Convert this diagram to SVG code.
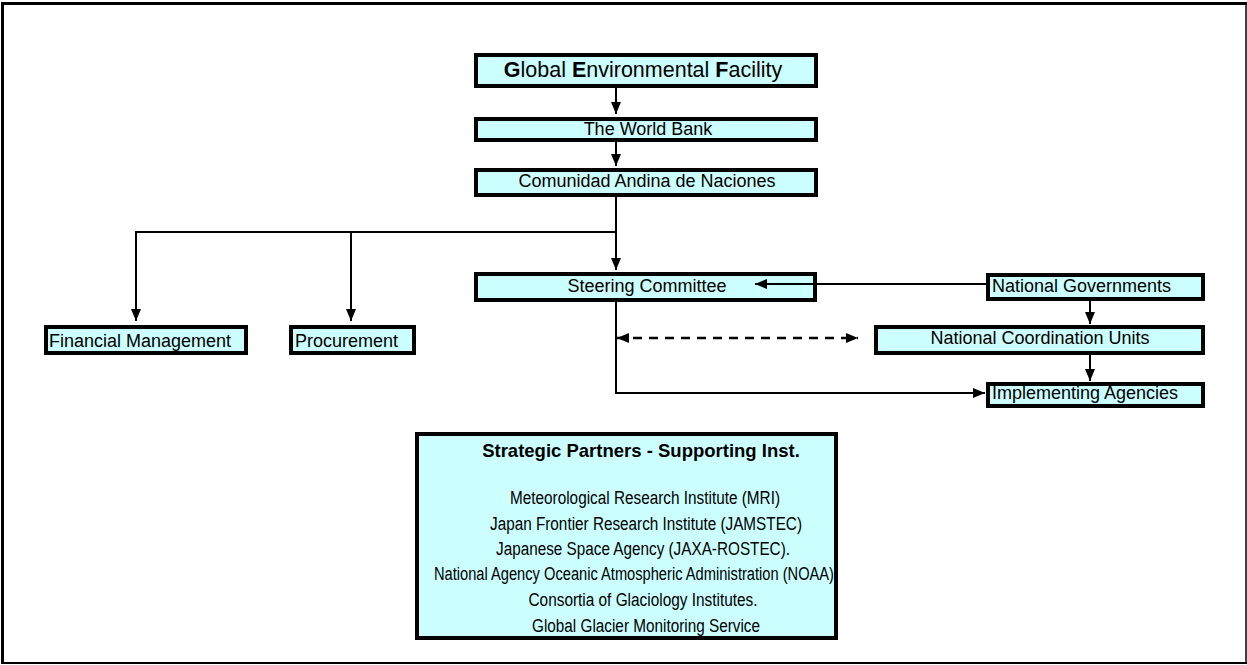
<svg xmlns="http://www.w3.org/2000/svg" width="1247" height="665" viewBox="0 0 1247 665">
<style>
.box{fill:#CCFFFF;stroke:#000;stroke-width:4}
.t{font-family:"Liberation Sans",Arial,sans-serif;font-size:18px;fill:#000}
.c{text-anchor:middle}
.n{font-family:"Liberation Sans Narrow","Liberation Sans",Arial,sans-serif;font-size:18px;fill:#000;text-anchor:middle}
.ln{fill:none;stroke:#000;stroke-width:2}
.dash{fill:none;stroke:#000;stroke-width:2.5;stroke-dasharray:9 7}
</style>
<defs>
<marker id="ah" viewBox="0 0 12 10" refX="12" refY="5" markerWidth="12" markerHeight="10" markerUnits="userSpaceOnUse" orient="auto-start-reverse">
<path d="M0,0 L12,5 L0,10 Z" fill="#000"/>
</marker>
</defs>
<rect width="1247" height="665" fill="#fff"/>
<g id="frame" stroke="#000" fill="none">
<line x1="2.5" y1="2" x2="2.5" y2="664" stroke-width="3"/>
<line x1="1" y1="3.5" x2="1247" y2="3.5" stroke-width="3"/>
<line x1="1246" y1="2" x2="1246" y2="664" stroke-width="1.5"/>
<line x1="1" y1="663" x2="1247" y2="663" stroke-width="2"/>
</g>
<g id="gef">
<rect class="box" x="476" y="55" width="340" height="31"/>
<text class="t c" x="643" y="77" style="font-size:21.5px"><tspan font-weight="bold">G</tspan>lobal <tspan font-weight="bold">E</tspan>nvironmental <tspan font-weight="bold">F</tspan>acility</text>
</g>
<g id="worldbank">
<rect class="box" x="476" y="119" width="340" height="21"/>
<text class="t c" x="648" y="135">The World Bank</text>
</g>
<g id="can">
<rect class="box" x="476" y="170" width="340" height="25"/>
<text class="t c" x="647" y="187">Comunidad Andina de Naciones</text>
</g>
<g id="steering">
<rect class="box" x="476" y="274" width="339" height="26"/>
<text class="t c" x="647" y="292">Steering Committee</text>
</g>
<g id="natgov">
<rect class="box" x="988" y="275" width="215" height="24"/>
<text class="t" x="992" y="292">National Governments</text>
</g>
<g id="financial">
<rect class="box" x="46" y="327" width="200" height="26"/>
<text class="t" x="49" y="347">Financial Management</text>
</g>
<g id="procurement">
<rect class="box" x="291" y="327" width="123" height="26"/>
<text class="t" x="295" y="347">Procurement</text>
</g>
<g id="ncu">
<rect class="box" x="876" y="327" width="327" height="26"/>
<text class="t c" x="1040" y="344">National Coordination Units</text>
</g>
<g id="implementing">
<rect class="box" x="988" y="384" width="215" height="22"/>
<text class="t" x="992" y="399">Implementing Agencies</text>
</g>
<g id="partners">
<rect class="box" x="417" y="434" width="419" height="204"/>
<text class="t c" x="641" y="457" font-weight="bold" style="font-size:18.5px">Strategic Partners - Supporting Inst.</text>
<text class="n" x="645" y="504" textLength="270" lengthAdjust="spacingAndGlyphs">Meteorological Research Institute (MRI)</text>
<text class="n" x="646" y="530" textLength="312" lengthAdjust="spacingAndGlyphs">Japan Frontier Research Institute (JAMSTEC)</text>
<text class="n" x="643" y="555" textLength="294" lengthAdjust="spacingAndGlyphs">Japanese Space Agency (JAXA-ROSTEC).</text>
<text class="n" x="634" y="580" textLength="400" lengthAdjust="spacingAndGlyphs">National Agency Oceanic Atmospheric Administration (NOAA)</text>
<text class="n" x="643" y="606" textLength="229" lengthAdjust="spacingAndGlyphs">Consortia of Glaciology Institutes.</text>
<text class="n" x="646" y="632" textLength="228" lengthAdjust="spacingAndGlyphs">Global Glacier Monitoring Service</text>
</g>
<g id="connectors">
<line class="ln" x1="616" y1="88" x2="616" y2="114" marker-end="url(#ah)"/>
<line class="ln" x1="616" y1="142" x2="616" y2="166" marker-end="url(#ah)"/>
<line class="ln" x1="616" y1="197" x2="616" y2="270" marker-end="url(#ah)"/>
<polyline class="ln" points="616,232 136,232 136,321" marker-end="url(#ah)"/>
<line class="ln" x1="351" y1="232" x2="351" y2="321" marker-end="url(#ah)"/>
<line class="ln" x1="986" y1="284" x2="755" y2="284" marker-end="url(#ah)"/>
<line class="ln" x1="1090" y1="301" x2="1090" y2="324" marker-end="url(#ah)"/>
<line class="ln" x1="1090" y1="355" x2="1090" y2="381" marker-end="url(#ah)"/>
<polyline class="ln" points="616,302 616,393 985,393" marker-end="url(#ah)"/>
<line class="dash" x1="617" y1="338" x2="858" y2="338" marker-start="url(#ah)" marker-end="url(#ah)"/>
</g>
</svg>
